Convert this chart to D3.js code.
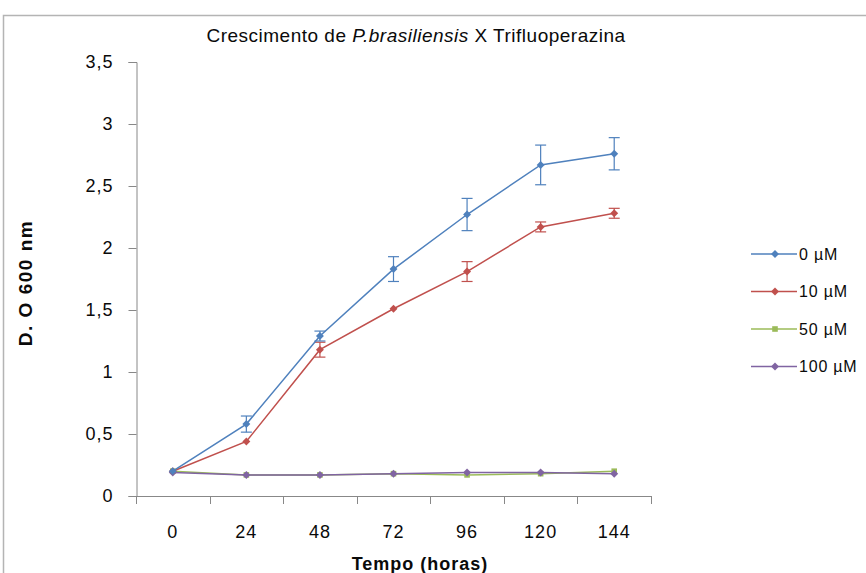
<!DOCTYPE html>
<html>
<head>
<meta charset="utf-8">
<script src="https://cdn.jsdelivr.net/npm/d3@7"></script>
<style>
  body { margin: 0; background: #fff; }
  text { font-family: "Liberation Sans", Arial, sans-serif; fill: #0a0a0a; }
</style>
</head>
<body>
<div id="chart"></div>
<script>
// growth data
var hours = ["0", "24", "48", "72", "96", "120", "144"]
var yTicks = [0, 0.5, 1, 1.5, 2, 2.5, 3, 3.5]
var seriesNames = ["0 µM", "10 µM", "50 µM", "100 µM"]
var colors = ["#4F81BD", "#C0504D", "#9BBB59", "#8064A2"]
var shapes = ["diamond", "diamond", "square", "diamond"]

var od0 = [0.20, 0.58, 1.29, 1.83, 2.27, 2.67, 2.76]
var od10 = [0.20, 0.44, 1.18, 1.51, 1.81, 2.17, 2.28]
var od50 = [0.20, 0.17, 0.17, 0.18, 0.17, 0.18, 0.20]
var od100 = [0.19, 0.17, 0.17, 0.18, 0.19, 0.19, 0.18]

var err0 = [0.02, 0.065, 0.04, 0.10, 0.13, 0.16, 0.13]
var err10 = [0.01, 0.015, 0.06, 0.02, 0.08, 0.04, 0.04]
var err50 = [0.01, 0.01, 0.01, 0.01, 0.01, 0.01, 0.01]
var err100 = [0.01, 0.01, 0.01, 0.01, 0.01, 0.01, 0.01]

var values = [od0, od10, od50, od100]
var errors = [err0, err10, err50, err100]

var width = 866
var height = 573

var svg = d3.select('#chart').append('svg')
            .attr('width', width)
            .attr('height', height)

// outer frame (only top and left visible in the crop)
svg.append('rect')
   .attr('x', 3.5).attr('y', 15.5)
   .attr('width', 880).attr('height', 580)
   .attr('fill', 'none')
   .attr('stroke', '#b4b4b4')
   .attr('stroke-width', 1.5)

var x = d3.scaleBand()
          .domain(hours)
          .range([136, 651])
          .padding(0)

var y = d3.scaleLinear()
          .domain([0, 3.5])
          .range([496, 62])

var cx = function(h) { return x(h) + x.bandwidth() / 2 }

// y axis
var yAxis = svg.append('g')
   .attr('transform', 'translate(136.5,0)')
   .call(d3.axisLeft(y)
           .tickValues(yTicks)
           .tickSize(8)
           .tickPadding(15)
           .tickFormat(function(d) { return String(d).replace('.', ',') }))
yAxis.select('.domain').attr('stroke', '#888')
yAxis.selectAll('.tick line').attr('stroke', '#888')
yAxis.selectAll('.tick text')
     .attr('font-size', 18)
     .attr('letter-spacing', 1)
     .style('font-family', '"Liberation Sans", Arial, sans-serif')
     .attr('fill', '#0a0a0a')

// x axis line with ticks between categories
var xg = svg.append('g')
xg.append('line')
  .attr('x1', 136).attr('x2', 651)
  .attr('y1', 496.5).attr('y2', 496.5)
  .attr('stroke', '#888')
var edges = hours.map(function(h) { return x(h) }).concat([x.range()[1]])
xg.selectAll('.xt')
  .data(edges)
  .enter().append('line')
  .attr('x1', function(d) { return Math.round(d) + 0.5 })
  .attr('x2', function(d) { return Math.round(d) + 0.5 })
  .attr('y1', 496).attr('y2', 504)
  .attr('stroke', '#888')
xg.selectAll('.xl')
  .data(hours)
  .enter().append('text')
  .attr('x', cx)
  .attr('y', 538)
  .attr('text-anchor', 'middle')
  .attr('font-size', 18)
  .attr('letter-spacing', 1)
  .text(function(d) { return d })

// series
var line = d3.line()
             .x(function(d) { return cx(d.h) })
             .y(function(d) { return y(d.v) })

var symDiamond = d3.symbol().type(d3.symbolDiamond2).size(40)
var symSquare = d3.symbol().type(d3.symbolSquare2).size(40)

// draw low series first so blue/red stay on top
var order = [2, 3, 1, 0]
order.forEach(function(i) {
  var pts = hours.map(function(h, j) {
    return { h: h, v: values[i][j], e: errors[i][j] }
  })
  var g = svg.append('g')

  g.append('path')
   .datum(pts)
   .attr('d', line)
   .attr('fill', 'none')
   .attr('stroke', colors[i])
   .attr('stroke-width', 1.5)

  var eb = g.selectAll('.eb')
            .data(pts.filter(function(d) { return d.e > 0.02 }))
            .enter().append('g')
  eb.append('line')
    .attr('x1', function(d) { return cx(d.h) })
    .attr('x2', function(d) { return cx(d.h) })
    .attr('y1', function(d) { return y(d.v - d.e) })
    .attr('y2', function(d) { return y(d.v + d.e) })
    .attr('stroke', colors[i]).attr('stroke-width', 1.2)
  ;[-1, 1].forEach(function(s) {
    eb.append('line')
      .attr('x1', function(d) { return cx(d.h) - 5.5 })
      .attr('x2', function(d) { return cx(d.h) + 5.5 })
      .attr('y1', function(d) { return y(d.v + s * d.e) })
      .attr('y2', function(d) { return y(d.v + s * d.e) })
      .attr('stroke', colors[i]).attr('stroke-width', 1.2)
  })

  g.selectAll('.mk')
   .data(pts)
   .enter().append('path')
   .attr('d', shapes[i] === 'square' ? symSquare : symDiamond)
   .attr('transform', function(d) {
     return 'translate(' + cx(d.h) + ',' + y(d.v) + ')'
   })
   .attr('fill', colors[i])
})

// title
var title = svg.append('text')
   .attr('x', 416)
   .attr('y', 42)
   .attr('text-anchor', 'middle')
   .attr('font-size', 19)
   .attr('letter-spacing', 0.5)
title.append('tspan').text('Crescimento de ')
title.append('tspan').attr('font-style', 'italic').text('P.brasiliensis')
title.append('tspan').text(' X Trifluoperazina')

// axis titles
svg.append('text')
   .attr('transform', 'translate(32,283) rotate(-90)')
   .attr('text-anchor', 'middle')
   .attr('font-size', 19)
   .attr('font-weight', 'bold')
   .attr('letter-spacing', 1.5)
   .text('D. O 600 nm')

svg.append('text')
   .attr('x', 420)
   .attr('y', 570)
   .attr('text-anchor', 'middle')
   .attr('font-size', 18)
   .attr('font-weight', 'bold')
   .attr('letter-spacing', 1)
   .text('Tempo (horas)')

// legend
var legend = svg.selectAll('.lg')
   .data(seriesNames)
   .enter().append('g')
   .attr('transform', function(d, i) { return 'translate(751,' + (254 + i * 37.5) + ')' })
legend.append('line')
   .attr('x1', 0).attr('x2', 46)
   .attr('stroke', function(d, i) { return colors[i] })
   .attr('stroke-width', 1.5)
legend.append('path')
   .attr('d', function(d, i) { return shapes[i] === 'square' ? symSquare() : symDiamond() })
   .attr('transform', 'translate(24,0)')
   .attr('fill', function(d, i) { return colors[i] })
legend.append('text')
   .attr('x', 48)
   .attr('dy', '0.36em')
   .attr('font-size', 16)
   .attr('letter-spacing', 0.8)
   .text(function(d) { return d })
</script>
</body>
</html>
